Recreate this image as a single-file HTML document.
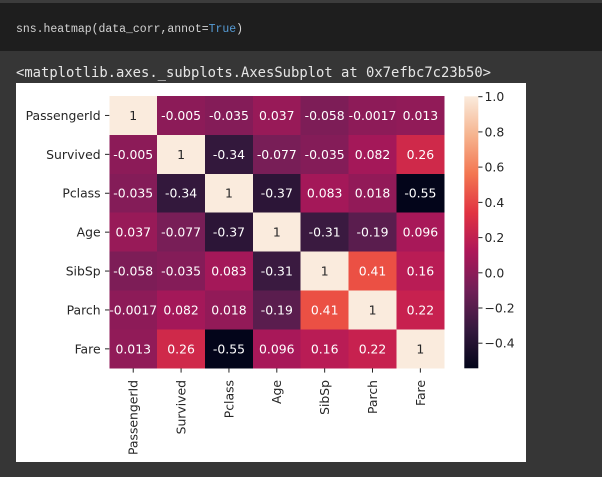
<!DOCTYPE html>
<html><head><meta charset="utf-8">
<style>
html,body{margin:0;padding:0;background:#363636;}
svg{display:block;}
</style></head>
<body>
<svg width="602" height="477" viewBox="0 0 602 477" xmlns="http://www.w3.org/2000/svg">
<defs>
<linearGradient id="cb" x1="0" y1="0" x2="0" y2="1">
<stop offset="0" stop-color="#faebdd"/>
<stop offset="0.1429" stop-color="#f6b48f"/>
<stop offset="0.2857" stop-color="#f37651"/>
<stop offset="0.4286" stop-color="#e13342"/>
<stop offset="0.5714" stop-color="#ad1759"/>
<stop offset="0.7143" stop-color="#701f57"/>
<stop offset="0.8571" stop-color="#35193e"/>
<stop offset="1" stop-color="#03051a"/>
</linearGradient>
</defs>
<rect x="0" y="0" width="602" height="477" fill="#363636"/>
<rect x="0" y="0" width="602" height="3" fill="#3c3c3c"/>
<rect x="0" y="3" width="602" height="48" fill="#1e1e1e"/>
<text x="16" y="32" font-family="'Liberation Mono', monospace" font-size="11.5" fill="#d4d4d4" textLength="227" lengthAdjust="spacingAndGlyphs" xml:space="preserve">sns.heatmap(data_corr,annot=<tspan fill="#569cd6">True</tspan>)</text>
<text x="16" y="77" font-family="'DejaVu Sans Mono', 'Liberation Mono', monospace" font-size="13.8" fill="#e6e6e6" textLength="475" lengthAdjust="spacingAndGlyphs">&lt;matplotlib.axes._subplots.AxesSubplot at 0x7efbc7c23b50&gt;</text>

<rect x="16" y="83" width="510" height="379" fill="#ffffff"/>

<g shape-rendering="crispEdges">
<rect x="109.3" y="96" width="48.4" height="39.4" fill="#faebdd"/>
<rect x="157.16" y="96" width="48.4" height="39.4" fill="#8c1b58"/>
<rect x="205.01" y="96" width="48.4" height="39.4" fill="#841c58"/>
<rect x="252.87" y="96" width="48.4" height="39.4" fill="#981a58"/>
<rect x="300.73" y="96" width="48.4" height="39.4" fill="#7d1d57"/>
<rect x="348.59" y="96" width="48.4" height="39.4" fill="#8d1b58"/>
<rect x="396.44" y="96" width="47.86" height="39.4" fill="#911b58"/>
<rect x="109.3" y="134.9" width="48.4" height="39.4" fill="#8c1b58"/>
<rect x="157.16" y="134.9" width="48.4" height="39.4" fill="#faebdd"/>
<rect x="205.01" y="134.9" width="48.4" height="39.4" fill="#33183c"/>
<rect x="252.87" y="134.9" width="48.4" height="39.4" fill="#781e57"/>
<rect x="300.73" y="134.9" width="48.4" height="39.4" fill="#841c58"/>
<rect x="348.59" y="134.9" width="48.4" height="39.4" fill="#a41859"/>
<rect x="396.44" y="134.9" width="47.86" height="39.4" fill="#cf294a"/>
<rect x="109.3" y="173.8" width="48.4" height="39.4" fill="#841c58"/>
<rect x="157.16" y="173.8" width="48.4" height="39.4" fill="#33183c"/>
<rect x="205.01" y="173.8" width="48.4" height="39.4" fill="#faebdd"/>
<rect x="252.87" y="173.8" width="48.4" height="39.4" fill="#2c1537"/>
<rect x="300.73" y="173.8" width="48.4" height="39.4" fill="#a41859"/>
<rect x="348.59" y="173.8" width="48.4" height="39.4" fill="#921a58"/>
<rect x="396.44" y="173.8" width="47.86" height="39.4" fill="#03051a"/>
<rect x="109.3" y="212.7" width="48.4" height="39.4" fill="#981a58"/>
<rect x="157.16" y="212.7" width="48.4" height="39.4" fill="#781e57"/>
<rect x="205.01" y="212.7" width="48.4" height="39.4" fill="#2c1537"/>
<rect x="252.87" y="212.7" width="48.4" height="39.4" fill="#faebdd"/>
<rect x="300.73" y="212.7" width="48.4" height="39.4" fill="#3a1a40"/>
<rect x="348.59" y="212.7" width="48.4" height="39.4" fill="#5a1d4e"/>
<rect x="396.44" y="212.7" width="47.86" height="39.4" fill="#a81859"/>
<rect x="109.3" y="251.6" width="48.4" height="39.4" fill="#7d1d57"/>
<rect x="157.16" y="251.6" width="48.4" height="39.4" fill="#841c58"/>
<rect x="205.01" y="251.6" width="48.4" height="39.4" fill="#a41859"/>
<rect x="252.87" y="251.6" width="48.4" height="39.4" fill="#3a1a40"/>
<rect x="300.73" y="251.6" width="48.4" height="39.4" fill="#faebdd"/>
<rect x="348.59" y="251.6" width="48.4" height="39.4" fill="#eb5044"/>
<rect x="396.44" y="251.6" width="47.86" height="39.4" fill="#b91c55"/>
<rect x="109.3" y="290.5" width="48.4" height="39.4" fill="#8d1b58"/>
<rect x="157.16" y="290.5" width="48.4" height="39.4" fill="#a41859"/>
<rect x="205.01" y="290.5" width="48.4" height="39.4" fill="#921a58"/>
<rect x="252.87" y="290.5" width="48.4" height="39.4" fill="#5a1d4e"/>
<rect x="300.73" y="290.5" width="48.4" height="39.4" fill="#eb5044"/>
<rect x="348.59" y="290.5" width="48.4" height="39.4" fill="#faebdd"/>
<rect x="396.44" y="290.5" width="47.86" height="39.4" fill="#c7214f"/>
<rect x="109.3" y="329.4" width="48.4" height="38.9" fill="#911b58"/>
<rect x="157.16" y="329.4" width="48.4" height="38.9" fill="#cf294a"/>
<rect x="205.01" y="329.4" width="48.4" height="38.9" fill="#03051a"/>
<rect x="252.87" y="329.4" width="48.4" height="38.9" fill="#a81859"/>
<rect x="300.73" y="329.4" width="48.4" height="38.9" fill="#b91c55"/>
<rect x="348.59" y="329.4" width="48.4" height="38.9" fill="#c7214f"/>
<rect x="396.44" y="329.4" width="47.86" height="38.9" fill="#faebdd"/>
</g>

<g font-family="'DejaVu Sans', 'Liberation Sans', sans-serif" font-size="12.4" text-anchor="middle" fill="#ffffff">
<text x="133.23" y="119.9" fill="#262626">1</text>
<text x="181.09" y="119.9">-0.005</text>
<text x="228.94" y="119.9">-0.035</text>
<text x="276.80" y="119.9">0.037</text>
<text x="324.66" y="119.9">-0.058</text>
<text x="372.51" y="119.9">-0.0017</text>
<text x="420.37" y="119.9">0.013</text>

<text x="133.23" y="158.8">-0.005</text>
<text x="181.09" y="158.8" fill="#262626">1</text>
<text x="228.94" y="158.8">-0.34</text>
<text x="276.80" y="158.8">-0.077</text>
<text x="324.66" y="158.8">-0.035</text>
<text x="372.51" y="158.8">0.082</text>
<text x="420.37" y="158.8">0.26</text>

<text x="133.23" y="197.7">-0.035</text>
<text x="181.09" y="197.7">-0.34</text>
<text x="228.94" y="197.7" fill="#262626">1</text>
<text x="276.80" y="197.7">-0.37</text>
<text x="324.66" y="197.7">0.083</text>
<text x="372.51" y="197.7">0.018</text>
<text x="420.37" y="197.7">-0.55</text>

<text x="133.23" y="236.6">0.037</text>
<text x="181.09" y="236.6">-0.077</text>
<text x="228.94" y="236.6">-0.37</text>
<text x="276.80" y="236.6" fill="#262626">1</text>
<text x="324.66" y="236.6">-0.31</text>
<text x="372.51" y="236.6">-0.19</text>
<text x="420.37" y="236.6">0.096</text>

<text x="133.23" y="275.5">-0.058</text>
<text x="181.09" y="275.5">-0.035</text>
<text x="228.94" y="275.5">0.083</text>
<text x="276.80" y="275.5">-0.31</text>
<text x="324.66" y="275.5" fill="#262626">1</text>
<text x="372.51" y="275.5">0.41</text>
<text x="420.37" y="275.5">0.16</text>

<text x="133.23" y="314.4">-0.0017</text>
<text x="181.09" y="314.4">0.082</text>
<text x="228.94" y="314.4">0.018</text>
<text x="276.80" y="314.4">-0.19</text>
<text x="324.66" y="314.4">0.41</text>
<text x="372.51" y="314.4" fill="#262626">1</text>
<text x="420.37" y="314.4">0.22</text>

<text x="133.23" y="353.3">0.013</text>
<text x="181.09" y="353.3">0.26</text>
<text x="228.94" y="353.3">-0.55</text>
<text x="276.80" y="353.3">0.096</text>
<text x="324.66" y="353.3">0.16</text>
<text x="372.51" y="353.3">0.22</text>
<text x="420.37" y="353.3" fill="#262626">1</text>
</g>

<g stroke="#262626" stroke-width="1">
<line x1="105" y1="115.45" x2="109.3" y2="115.45"/>
<line x1="105" y1="154.35" x2="109.3" y2="154.35"/>
<line x1="105" y1="193.25" x2="109.3" y2="193.25"/>
<line x1="105" y1="232.15" x2="109.3" y2="232.15"/>
<line x1="105" y1="271.05" x2="109.3" y2="271.05"/>
<line x1="105" y1="309.95" x2="109.3" y2="309.95"/>
<line x1="105" y1="348.85" x2="109.3" y2="348.85"/>
<line x1="133.23" y1="368.3" x2="133.23" y2="372.6"/>
<line x1="181.09" y1="368.3" x2="181.09" y2="372.6"/>
<line x1="228.94" y1="368.3" x2="228.94" y2="372.6"/>
<line x1="276.80" y1="368.3" x2="276.80" y2="372.6"/>
<line x1="324.66" y1="368.3" x2="324.66" y2="372.6"/>
<line x1="372.51" y1="368.3" x2="372.51" y2="372.6"/>
<line x1="420.37" y1="368.3" x2="420.37" y2="372.6"/>
</g>

<g font-family="'DejaVu Sans', 'Liberation Sans', sans-serif" font-size="12.4" fill="#262626" text-anchor="end">
<text x="100.6" y="119.9">PassengerId</text>
<text x="100.6" y="158.8">Survived</text>
<text x="100.6" y="197.7">Pclass</text>
<text x="100.6" y="236.6">Age</text>
<text x="100.6" y="275.5">SibSp</text>
<text x="100.6" y="314.4">Parch</text>
<text x="100.6" y="353.3">Fare</text>

<text transform="translate(137.7,380) rotate(-90)">PassengerId</text>
<text transform="translate(185.5,380) rotate(-90)">Survived</text>
<text transform="translate(233.4,380) rotate(-90)">Pclass</text>
<text transform="translate(281.2,380) rotate(-90)">Age</text>
<text transform="translate(329.1,380) rotate(-90)">SibSp</text>
<text transform="translate(377.0,380) rotate(-90)">Parch</text>
<text transform="translate(424.8,380) rotate(-90)">Fare</text>
</g>

<rect x="464.3" y="96.3" width="14" height="272" fill="url(#cb)"/>
<g stroke="#262626" stroke-width="1">
<line x1="478.3" y1="96.7" x2="482.5" y2="96.7"/>
<line x1="478.3" y1="131.9" x2="482.5" y2="131.9"/>
<line x1="478.3" y1="167.1" x2="482.5" y2="167.1"/>
<line x1="478.3" y1="202.4" x2="482.5" y2="202.4"/>
<line x1="478.3" y1="237.6" x2="482.5" y2="237.6"/>
<line x1="478.3" y1="272.8" x2="482.5" y2="272.8"/>
<line x1="478.3" y1="308.0" x2="482.5" y2="308.0"/>
<line x1="478.3" y1="343.2" x2="482.5" y2="343.2"/>
</g>
<g font-family="'DejaVu Sans', 'Liberation Sans', sans-serif" font-size="12.4" fill="#262626">
<text x="484.5" y="101.2">1.0</text>
<text x="484.5" y="136.4">0.8</text>
<text x="484.5" y="171.6">0.6</text>
<text x="484.5" y="206.9">0.4</text>
<text x="484.5" y="242.1">0.2</text>
<text x="484.5" y="277.3">0.0</text>
<text x="484.5" y="312.5">−0.2</text>
<text x="484.5" y="347.7">−0.4</text>
</g>
</svg>
</body></html>
